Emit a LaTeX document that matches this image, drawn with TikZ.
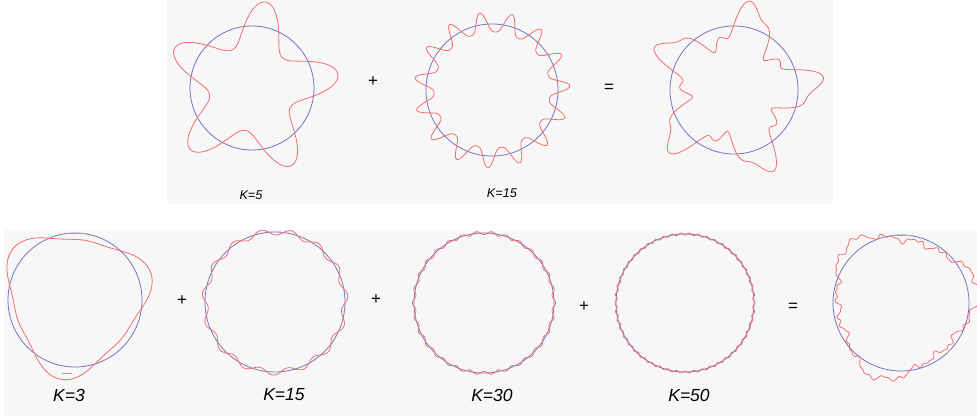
\documentclass[tikz,border=0pt]{standalone}
\usepackage{fontspec}
\setmainfont{Liberation Sans}
\definecolor{panelbg}{HTML}{F7F7F7}
\definecolor{circblue}{HTML}{7474C4}
\definecolor{curvred}{HTML}{F26E6E}
\begin{document}
\begin{tikzpicture}[x=1pt,y=1pt,
  panel/.style={fill=panelbg,draw=none},
  refcirc/.style={draw=circblue,line width=0.8pt},
  wave/.style={draw=curvred,line width=0.8pt,smooth cycle},
  klabel/.style={font=\itshape},
  opsign/.style={font=\fontsize{17}{17}\selectfont,inner sep=0pt}]
\useasboundingbox (0,0) rectangle (977,416);
\fill[white] (0,0) rectangle (977,416);
% panels
\fill[panel] (167,212) rectangle (833,416);
\fill[panel] (4,0) rectangle (977,186);
\begin{scope}
\clip (0,0) rectangle (977,416);
% ---------- top row ----------
\draw[refcirc] (252,328) circle[radius=62];
\draw[wave,shift={(252,328)}] plot[domain=0:359,samples=360] (\x:{62+22*cos(5*(\x-81))+3*cos(10*(\x-81))});
\draw[refcirc] (492,326) circle[radius=66];
\draw[wave,shift={(492,326)}] plot[domain=0:359,samples=360] (\x:{66+10*cos(15*(\x-3))+2*cos(30*(\x-3))});
\draw[refcirc] (734,326) circle[radius=64];
\draw[wave,shift={(734,326)}] plot[domain=0:359,samples=360] (\x:{64+20*cos(5*(\x-76))+3*cos(10*(\x-76))+6*cos(15*(\x-10))});
% ---------- bottom row ----------
\draw[refcirc] (75,116) circle[radius=67];
\draw[wave,shift={(75,116)}] plot[domain=0:359,samples=360] (\x:{68+10*cos(3*(\x-140))+2.5*cos(6*(\x-140))});
\draw[refcirc] (275,114) circle[radius=70];
\draw[wave,shift={(275,114)}] plot[domain=0:359,samples=360] (\x:{70+3*cos(15*(\x-5))});
\draw[refcirc] (484,113) circle[radius=70];
\draw[wave,shift={(484,113)}] plot[domain=0:359.5,samples=720] (\x:{70+1.6*cos(30*\x)});
\draw[refcirc] (685,113) circle[radius=69];
\draw[wave,shift={(685,113)}] plot[domain=0:359.5,samples=720] (\x:{69+1.1*cos(5*mod(10*\x,72))});
\draw[refcirc] (901,113) circle[radius=68];
\draw[wave,shift={(901,113)}] plot[domain=0:359.5,samples=720] (\x:{69+8*cos(3*(\x-132))+2*cos(6*(\x-132))+2.2*cos(15*(\x-5))+1.4*cos(30*\x+40)+1*cos(5*mod(10*\x,72)+80)});
\end{scope}
% small grey marks
\draw[gray!70,line width=0.8pt] (67,183) -- (87,183);
\draw[gray!70,line width=0.8pt] (62,43) -- (72,43);
\draw[gray!70,line width=0.8pt] (890,181) -- (913,181);
% operators
\node[opsign] (p1) at (373,334) {+};
\node[opsign] (e1) at (609,328) {=};
\node[opsign] (p2) at (182,115) {+};
\node[opsign] (p3) at (376,116) {+};
\node[opsign] (p4) at (584,109) {+};
\node[opsign] (e2) at (793,109) {=};
% labels
\node[klabel,font=\itshape\fontsize{12.7}{13}\selectfont] (l5) at (251,221) {K=5};
\node[klabel,font=\itshape\fontsize{12.7}{13}\selectfont] (l15t) at (502,223) {K=15};
\node[klabel,font=\itshape\fontsize{17.5}{18}\selectfont] (l3) at (69,21) {K=3};
\node[klabel,font=\itshape\fontsize{17.5}{18}\selectfont] (l15) at (284,21) {K=15};
\node[klabel,font=\itshape\fontsize{17.5}{18}\selectfont] (l30) at (492,21) {K=30};
\node[klabel,font=\itshape\fontsize{17.5}{18}\selectfont] (l50) at (689,21) {K=50};
\end{tikzpicture}
\end{document}
